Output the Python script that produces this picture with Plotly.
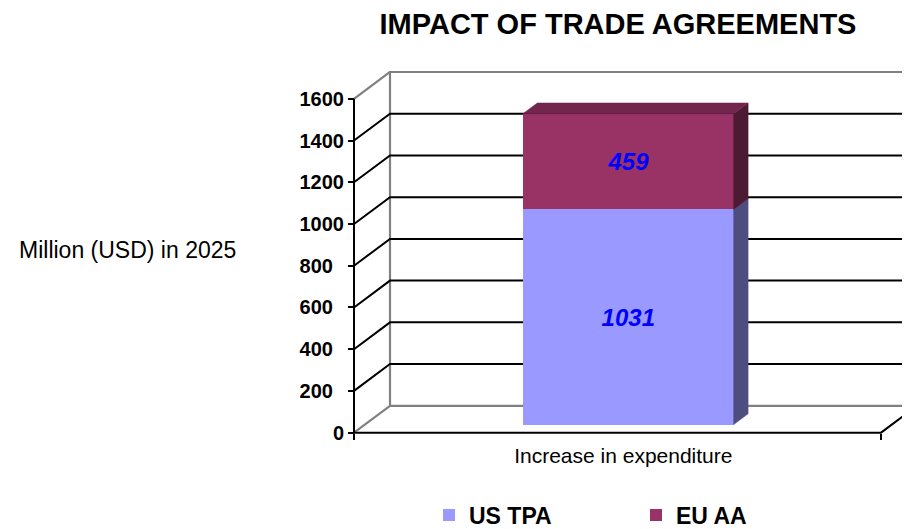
import plotly.graph_objects as go

# ---------------- data ----------------
CATEGORIES = ["Increase in expenditure"]
SERIES_NAMES = ["US TPA", "EU AA"]
US_TPA = [1031]
EU_AA = [459]
Y_TICKS = [0, 200, 400, 600, 800, 1000, 1200, 1400, 1600]
TITLE = "IMPACT OF TRADE AGREEMENTS"
Y_TITLE = "Million (USD) in 2025"

# ---------------- styling / layout ----------------
FONT = "Liberation Sans, Arial, sans-serif"
FRONT_COLORS = ["#9999FF", "#993366"]
SIDE_COLORS = ["#4D4D80", "#4C1A33"]
TOP_COLORS = ["#6B6BB3", "#73264D"]
GRAY = "#808080"

W, H = 910, 529
ML, MR, MT, MB = 330, 0, 40, 60
PLOT_W = W - ML - MR
PLOT_H = H - MT - MB

# front plane pixel anchors
AX_X_PX = 346          # pixel x of front axis (category left edge)
CAT_PX = 527           # pixel width of one category on front plane
Y0_PX, YTOP_PX = 441, 93
YMAX = Y_TICKS[-1]
K = (Y0_PX - YTOP_PX) / YMAX     # px per unit

XR = [-0.5 + (ML - AX_X_PX) / CAT_PX, -0.5 + (W - MR - AX_X_PX) / CAT_PX]
YR = [(Y0_PX - (H - MB)) / K, (Y0_PX - MT) / K]

# depth of 3D box (in axis units)
DX = 36 / CAT_PX
DY = 28 / K
BAR_FRONT = 0.3        # depth fraction of bar front face
BAR_DEPTH = 0.4        # depth fraction of bar thickness
BAR_WIDTH = 0.4        # gap width 150%

series = [US_TPA, EU_AA]
xs = list(range(len(CATEGORIES)))

fig = go.Figure()

# ---------- frame (front plane axes x/y) ----------
def seg_trace(xx, yy, color, width):
    return go.Scatter(x=xx, y=yy, mode="lines", xaxis="x", yaxis="y",
                      line=dict(color=color, width=width),
                      hoverinfo="skip", showlegend=False)

left = -0.5
right = len(CATEGORIES) - 0.5

gx, gy = [], []
# back wall border
gx += [left + DX, right + DX, right + DX, left + DX, left + DX, None]
gy += [DY, DY, YMAX + DY, YMAX + DY, DY, None]
# side diagonals at bottom and top
for v in (Y_TICKS[0], Y_TICKS[-1]):
    gx += [left, left + DX, None]
    gy += [v, v + DY, None]
fig.add_trace(seg_trace(gx, gy, GRAY, 2.2))

bx, by = [], []
for v in Y_TICKS[1:-1]:
    bx += [left, left + DX, right + DX, None]
    by += [v, v + DY, v + DY, None]
# front axis, front floor edge, right floor diagonal
bx += [left, left, None, left, right, right + DX, None]
by += [Y_TICKS[0], YMAX, None, 0, 0, DY, None]
fig.add_trace(seg_trace(bx, by, "black", 2))

# ---------- bars (bar plane axes x2/y2) ----------
bdx = BAR_DEPTH * DX
bdy = BAR_DEPTH * DY
hw = BAR_WIDTH / 2
cum = [0] * len(CATEGORIES)
for si, (name, vals) in enumerate(zip(SERIES_NAMES, series)):
    fig.add_trace(go.Bar(
        x=xs, y=vals, name=name, xaxis="x2", yaxis="y2",
        width=BAR_WIDTH, marker=dict(color=FRONT_COLORS[si], line=dict(width=0)),
        text=[str(v) for v in vals], textposition="inside",
        insidetextanchor="middle", textangle=0, constraintext="none",
        textfont=dict(family=FONT, size=24, color="#0000FF",
                      weight="bold", style="italic"),
        hoverinfo="skip"))
    for i, v in enumerate(vals):
        b, t = cum[i], cum[i] + v
        # right side face
        fig.add_trace(go.Scatter(
            x=[i + hw, i + hw + bdx, i + hw + bdx, i + hw, i + hw],
            y=[b, b + bdy, t + bdy, t, b],
            xaxis="x2", yaxis="y2", mode="lines", fill="toself",
            fillcolor=SIDE_COLORS[si], line=dict(width=0.5, color=SIDE_COLORS[si]),
            hoverinfo="skip", showlegend=False))
        if si == len(series) - 1:
            fig.add_trace(go.Scatter(
                x=[i - hw, i + hw, i + hw + bdx, i - hw + bdx, i - hw],
                y=[t, t, t + bdy, t + bdy, t],
                xaxis="x2", yaxis="y2", mode="lines", fill="toself",
                fillcolor=TOP_COLORS[si], line=dict(width=0.5, color=TOP_COLORS[si]),
                hoverinfo="skip", showlegend=False))
        cum[i] = t

def pad(v):
    s = str(v)
    if v == 0:
        return s
    return s + "\u00a0\u00a0" * (4 - len(s))

ox, oy = BAR_FRONT * DX, BAR_FRONT * DY
x_pos = ((H - MB) - Y0_PX) / PLOT_H
y_pos = (AX_X_PX - ML) / PLOT_W

fig.update_layout(
    width=W, height=H,
    margin=dict(l=ML, r=MR, t=MT, b=MB),
    paper_bgcolor="white", plot_bgcolor="rgba(0,0,0,0)",
    barmode="stack",
    font=dict(family=FONT, color="black"),
    title=dict(text=TITLE, x=610 / W, xanchor="center", xref="container",
               y=1 - 16 / H, yanchor="middle", yref="container",
               font=dict(family=FONT, size=29, color="black", weight="bold")),
    xaxis=dict(range=XR, anchor="free", position=x_pos,
               showgrid=False, zeroline=False, showline=False,
               tickmode="array", tickvals=[left, right], ticktext=["", ""],
               ticks="outside", ticklen=6, tickwidth=2, tickcolor="black"),
    yaxis=dict(range=YR, anchor="free", position=y_pos,
               showgrid=False, zeroline=False, showline=False,
               tickmode="array", tickvals=Y_TICKS,
               ticktext=[pad(v) for v in Y_TICKS],
               ticks="outside", ticklen=6, tickwidth=2, tickcolor="black",
               tickfont=dict(family=FONT, size=20, color="black", weight="bold")),
    xaxis2=dict(range=[XR[0] - ox, XR[1] - ox], overlaying="x", anchor="free",
                position=x_pos, showgrid=False, zeroline=False, showline=False,
                tickmode="array", tickvals=xs, ticktext=CATEGORIES, ticks="",
                ticklabelstandoff=8, ticklabelshift=-5,
                tickfont=dict(family=FONT, size=21, color="black")),
    yaxis2=dict(range=[YR[0] - oy, YR[1] - oy], overlaying="y", visible=False),
    showlegend=True,
    legend=dict(orientation="h", xref="container", yref="container",
                x=421 / W, xanchor="left", y=1 - 507 / H, yanchor="middle",
                entrywidth=162, entrywidthmode="pixels", traceorder="normal",
                font=dict(family=FONT, size=23, color="black", weight="bold"),
                bgcolor="rgba(0,0,0,0)"),
    annotations=[dict(text=Y_TITLE, xref="paper", yref="paper",
                      x=(230 - ML) / PLOT_W, xanchor="right",
                      y=((H - MB) - 251) / PLOT_H, yanchor="middle",
                      showarrow=False,
                      font=dict(family=FONT, size=23, color="black"))],
)

fig.write_html("out.html")
